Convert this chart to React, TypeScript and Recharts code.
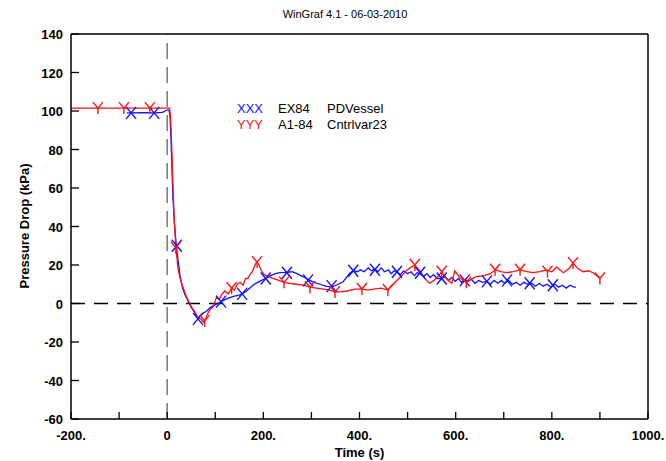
import React from 'react';
import { LineChart, Line, Scatter, XAxis, YAxis, ReferenceLine } from 'recharts';

// EX84 PDVessel (blue)
const blueTime = [
  -84, -75, -50, -27, -10, 0, 4, 6, 8, 10, 12, 15, 18, 20, 24, 27, 32, 37, 44, 50, 54, 58, 64, 68, 75, 82, 90, 98,
  105, 112, 120, 130, 140, 150, 156, 165, 172, 179, 188, 196, 205, 215, 225, 235, 248, 260, 270, 282, 293, 305, 318,
  330, 342, 352, 366, 380, 387, 395, 402, 410, 418, 425, 432, 438, 445, 452, 460, 466, 472, 478, 485, 492, 500, 507,
  514, 520, 526, 533, 540, 547, 554, 561, 571, 578, 585, 592, 599, 606, 612, 619, 626, 633, 640, 648, 656, 665, 672,
  680, 688, 695, 702, 710, 718, 726, 734, 742, 750, 758, 766, 774, 782, 790, 798, 806, 814, 822, 830, 838, 846, 850,
];
const bluePressure = [
  99, 99, 99.2, 99, 99.3, 100.5, 100.5, 97, 85, 70, 55, 42, 33, 28, 20, 14, 8, 4.5, 1, -2, -3.5, -5, -8, -6.5, -5, -4,
  -2, -1, 0, 1, 2, 3, 3.8, 4.4, 5, 6.5, 8, 9.6, 11, 12, 13, 14.5, 15.5, 16, 16.2, 16.5, 15.5, 14, 12.5, 11, 10, 9, 8.5,
  9.6, 11.3, 15.8, 17, 16.5, 17.5, 16.5, 18.5, 17, 18, 16.5, 18.5, 16.5, 17.5, 15.5, 17, 16.5, 15, 17, 15.5, 16.5,
  14.5, 16, 15.5, 14, 15.5, 13.5, 15, 13, 13, 14, 12, 13.5, 11.5, 13, 11, 12.5, 11.5, 12.5, 10.5, 12, 11, 11.5, 10, 12,
  10.5, 12, 10.5, 12, 10, 11, 9.5, 11, 10, 10.5, 9, 10.5, 9, 10, 8.5, 10, 8.5, 9.5, 8, 9.5, 8.5, 8.5,
];
const blueMarkTime = [-75, -27, 20, 64, 112, 156, 205, 249, 293, 342, 387, 432, 478, 526, 571, 619, 665, 707, 754, 802];
const blueMarkPressure = [99, 99, 30, -8, 1, 5, 13, 16, 12, 9, 17, 17.5, 16.5, 16, 13, 12, 11.5, 12, 10.5, 9.5];

// A1-84 Cntrlvar23 (red)
const redTime = [
  -200, -144, -90, -36, 0, 5, 7, 9, 11, 13, 15, 18, 22, 26, 30, 35, 40, 45, 51, 57, 64, 70, 75, 80, 85, 90, 95, 100,
  103, 108, 113, 120, 127, 134, 140, 146, 152, 158, 163, 168, 172, 177, 181, 186, 191, 196, 202, 210, 220, 232, 243,
  255, 268, 283, 297, 310, 325, 338, 349, 360, 375, 390, 405, 418, 430, 445, 459, 470, 482, 490, 497, 505, 515, 526,
  536, 546, 555, 563, 571, 580, 592, 598, 610, 622, 632, 643, 660, 672, 682, 694, 706, 720, 734, 748, 761, 775, 789,
  800, 810, 824, 835, 844, 855, 865, 876, 886, 893, 900,
];
const redPressure = [
  101.5, 101.5, 101.5, 101.5, 101.5, 101.5, 97, 85, 70, 55, 42, 30, 19, 14, 10.5, 7, 3.5, 1, -2, -4, -7.5, -8, -9.7,
  -8, -5, -3, -2, 1.5, 3.5, 2, 4.5, 6.5, 5, 8, 7, 10, 11, 9.5, 13, 13, 15, 16.5, 19, 21.7, 20, 17, 15, 14, 13, 12, 11,
  10.5, 10, 9.5, 8.5, 8, 7.5, 7, 6, 6, 6.5, 7.5, 7.5, 7, 7.5, 8, 7, 10, 13, 15, 17, 18.5, 20, 17, 13, 10.5, 12, 14,
  16.5, 13, 10.5, 17, 13, 11, 12.5, 14, 14.5, 15.5, 17.5, 16.5, 16, 16.5, 17.5, 16.5, 16, 16.5, 17.5, 16.5, 19, 16,
  18, 21, 18, 16.5, 17, 16, 14.5, 13,
];
const redMarkTime = [-144, -90, -36, 18, 78, 134, 187, 243, 297, 349, 405, 459, 515, 571, 622, 682, 734, 791, 844, 900];
const redMarkPressure = [101.5, 101.5, 101.5, 29, -9, 8, 21.5, 11, 8.5, 6, 7.5, 7, 20, 16.5, 11, 17.5, 17.5, 16.5, 21, 13];

const timeTicks = [-200, -100, 0, 100, 200, 300, 400, 500, 600, 700, 800, 900, 1000];
const pressureTicks = [-60, -40, -20, 0, 20, 40, 60, 80, 100, 120, 140];

const zip = (xs: number[], ys: number[]) => xs.map((x, i) => ({ x, y: ys[i] }));
const blueData = zip(blueTime, bluePressure);
const redData = zip(redTime, redPressure);
const blueMarks = zip(blueMarkTime, blueMarkPressure);
const redMarks = zip(redMarkTime, redMarkPressure);

const BLUE = '#1010ff';
const RED = '#ff1010';
const FONT = '"Liberation Sans", Arial, sans-serif';

const XMark = (p: any) => (
  <g stroke={BLUE} strokeWidth={1.4}>
    <line x1={p.cx - 5} y1={p.cy - 6} x2={p.cx + 5} y2={p.cy + 6} />
    <line x1={p.cx + 5} y1={p.cy - 6} x2={p.cx - 5} y2={p.cy + 6} />
  </g>
);

const YMark = (p: any) => (
  <g stroke={RED} strokeWidth={1.4} fill="none">
    <polyline points={`${p.cx - 5},${p.cy - 6} ${p.cx},${p.cy} ${p.cx + 5},${p.cy - 6}`} />
    <line x1={p.cx} y1={p.cy} x2={p.cx} y2={p.cy + 6} />
  </g>
);

// ticks point inward, labels only every 200 s
const BottomTick = (p: any) => (
  <g>
    <line x1={p.x} x2={p.x} y1={p.y} y2={p.y - 7} stroke="#000" strokeWidth={1.3} />
    {p.payload.value % 200 === 0 && (
      <text x={p.x} y={p.y + 21} textAnchor="middle" fontFamily={FONT} fontSize={13} fontWeight="bold" fill="#000">
        {p.payload.value === 0 ? '0' : `${p.payload.value}.`}
      </text>
    )}
  </g>
);

const TopTick = (p: any) => (
  <line x1={p.x} x2={p.x} y1={p.y} y2={p.y + 7} stroke="#000" strokeWidth={1.3} />
);

const LeftTick = (p: any) => (
  <g>
    <line x1={p.x} x2={p.x + 8} y1={p.y} y2={p.y} stroke="#000" strokeWidth={1.3} />
    <text x={p.x - 8} y={p.y + 5} textAnchor="end" fontFamily={FONT} fontSize={13} fontWeight="bold" fill="#000">
      {p.payload.value}
    </text>
  </g>
);

const RightTick = (p: any) => (
  <line x1={p.x} x2={p.x - 8} y1={p.y} y2={p.y} stroke="#000" strokeWidth={1.3} />
);

const axisLine = { stroke: '#000', strokeWidth: 1.5 };

export default function App() {
  return (
    <div style={{ position: 'absolute', left: 0, top: 0, width: 666, height: 461, background: '#fff', fontFamily: FONT }}>
      <LineChart width={666} height={461} margin={{ top: 33, right: 17, bottom: 41, left: 70 }}>
        <XAxis
          dataKey="x"
          type="number"
          domain={[-200, 1000]}
          ticks={timeTicks}
          height={1}
          tickSize={0}
          tickMargin={0}
          tickLine={false}
          axisLine={axisLine}
          tick={BottomTick}
          interval={0}
        />
        <XAxis
          xAxisId="top"
          orientation="top"
          dataKey="x"
          type="number"
          domain={[-200, 1000]}
          ticks={timeTicks}
          height={1}
          tickSize={0}
          tickMargin={0}
          tickLine={false}
          axisLine={axisLine}
          tick={TopTick}
          interval={0}
        />
        <YAxis
          dataKey="y"
          type="number"
          domain={[-60, 140]}
          ticks={pressureTicks}
          width={1}
          tickSize={0}
          tickMargin={0}
          tickLine={false}
          axisLine={axisLine}
          tick={LeftTick}
          interval={0}
        />
        <YAxis
          yAxisId="right"
          orientation="right"
          dataKey="y"
          type="number"
          domain={[-60, 140]}
          ticks={pressureTicks}
          width={1}
          tickSize={0}
          tickMargin={0}
          tickLine={false}
          axisLine={axisLine}
          tick={RightTick}
          interval={0}
        />
        <ReferenceLine y={0} stroke="#000" strokeWidth={1.3} strokeDasharray="14 9" />
        <ReferenceLine x={0} stroke="#777" strokeWidth={1.5} strokeDasharray="16 8" />
        <Line data={blueData} dataKey="y" type="linear" stroke={BLUE} strokeWidth={1.3} dot={false} isAnimationActive={false} />
        <Line data={redData} dataKey="y" type="linear" stroke={RED} strokeWidth={1.3} dot={false} isAnimationActive={false} />
        <Scatter data={blueMarks} dataKey="y" shape={XMark} isAnimationActive={false} />
        <Scatter data={redMarks} dataKey="y" shape={YMark} isAnimationActive={false} />
      </LineChart>

      <div style={{ position: 'absolute', top: 8, left: 0, width: 690, textAlign: 'center', fontSize: 11 }}>
        WinGraf 4.1 - 06-03-2010
      </div>
      <div style={{ position: 'absolute', top: 445, left: 71, width: 577, textAlign: 'center', fontSize: 13, fontWeight: 'bold' }}>
        Time (s)
      </div>
      <div
        style={{
          position: 'absolute',
          left: 24,
          top: 226,
          transform: 'translate(-50%, -50%) rotate(-90deg)',
          whiteSpace: 'nowrap',
          fontSize: 13,
          fontWeight: 'bold',
        }}
      >
        Pressure Drop (kPa)
      </div>
      <div style={{ position: 'absolute', left: 237, top: 101, fontSize: 13, lineHeight: '16px' }}>
        <div>
          <span style={{ color: BLUE, display: 'inline-block', width: 41 }}>XXX</span>
          <span style={{ display: 'inline-block', width: 49 }}>EX84</span>
          <span>PDVessel</span>
        </div>
        <div>
          <span style={{ color: RED, display: 'inline-block', width: 41 }}>YYY</span>
          <span style={{ display: 'inline-block', width: 49 }}>A1-84</span>
          <span>Cntrlvar23</span>
        </div>
      </div>
    </div>
  );
}
